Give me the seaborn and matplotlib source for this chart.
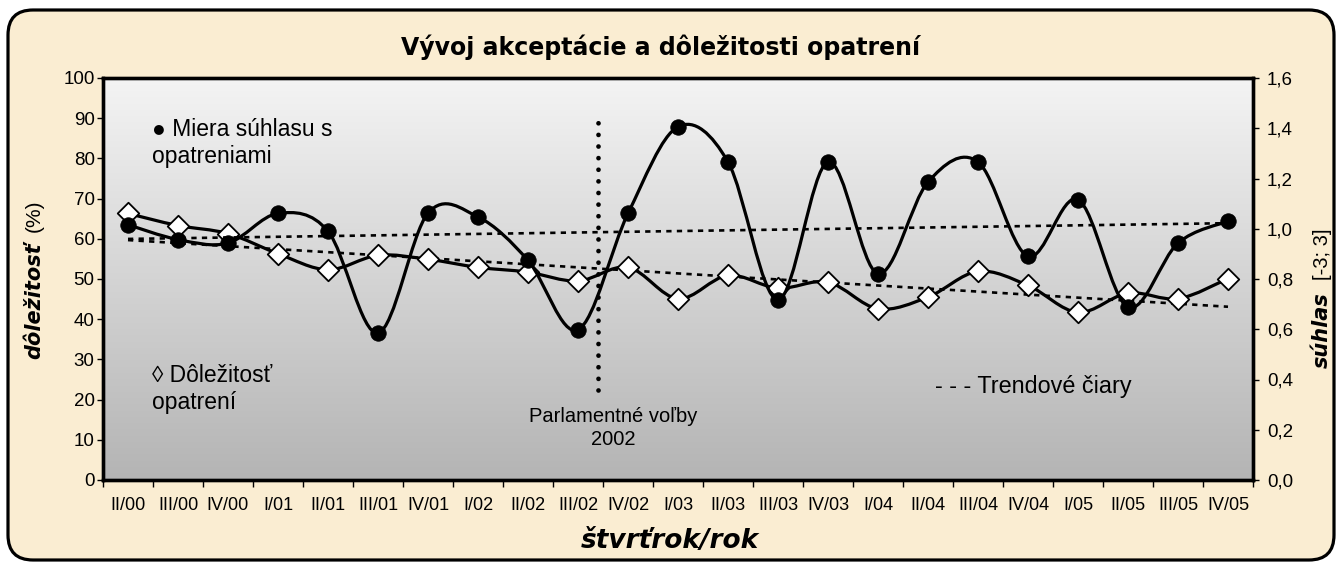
import numpy as np
import pandas as pd
import matplotlib
matplotlib.use("Agg")
import matplotlib.pyplot as plt
import seaborn as sns
from matplotlib.path import Path
from matplotlib.patches import PathPatch, FancyBboxPatch
from matplotlib.colors import LinearSegmentedColormap
from matplotlib.ticker import FixedLocator, FuncFormatter, NullFormatter

# ---------------- data ----------------
quarters = ["II/00", "III/00", "IV/00", "I/01", "II/01", "III/01", "IV/01", "I/02",
            "II/02", "III/02", "IV/02", "I/03", "II/03", "III/03", "IV/03", "I/04",
            "II/04", "III/04", "IV/04", "I/05", "II/05", "III/05", "IV/05"]
suhlas = [1.016, 0.957, 0.943, 1.061, 0.990, 0.585, 1.062, 1.047, 0.874, 0.598,
          1.061, 1.406, 1.266, 0.717, 1.266, 0.821, 1.186, 1.266, 0.890, 1.116,
          0.688, 0.943, 1.030]
dolezitost = [66.3, 63.3, 61.3, 56.3, 52.3, 55.9, 54.9, 52.9, 51.7, 49.5, 52.9,
              45.1, 50.9, 47.7, 49.2, 42.6, 45.5, 51.9, 48.4, 41.7, 46.5, 45.1, 50.1]
left_ticks = [0, 10, 20, 30, 40, 50, 60, 70, 80, 90, 100]
right_ticks = [0.0, 0.2, 0.4, 0.6, 0.8, 1.0, 1.2, 1.4, 1.6]
election_pos = 9.4          # between III/02 and IV/02
election_span = (22.4, 90)  # extent of the dotted marker on the % axis

df = pd.DataFrame({"q": quarters, "idx": np.arange(len(quarters)),
                   "suhlas": suhlas, "dolezitost": dolezitost})

# ---------------- style ----------------
sns.set_style("white")
plt.rcParams["font.family"] = ["Liberation Sans", "DejaVu Sans"]
for k in ("text.color", "axes.labelcolor", "xtick.color", "ytick.color"):
    plt.rcParams[k] = "black"

W, H = 1340, 563
fig = plt.figure(figsize=(W / 100, H / 100), dpi=100, facecolor="white")

# rounded parchment frame
frame = FancyBboxPatch((0.08, 0.03), 13.26, 5.5,
                       boxstyle="round,pad=0,rounding_size=0.25",
                       transform=fig.dpi_scale_trans, facecolor="#faedd2",
                       edgecolor="black", linewidth=2.3, zorder=-5)
fig.patches.append(frame)

L, R, T, B = 103, 1253, 78, 480
ax = fig.add_axes([L / W, 1 - B / H, (R - L) / W, (B - T) / H], zorder=1)
ax.set_xlim(-0.5, len(quarters) - 0.5)
ax.set_ylim(0, 100)

# gradient plot area
cmap = LinearSegmentedColormap.from_list("g", ["#b4b4b4", "#f4f4f4"])
grad = np.linspace(0, 1, 256).reshape(-1, 1)
ax.imshow(grad, extent=[-0.5, len(quarters) - 0.5, 0, 100], origin="lower",
          aspect="auto", cmap=cmap, zorder=0)

ax2 = ax.twinx()
ax2.set_zorder(2)
ax2.set_ylim(0, 1.6)
ax2.patch.set_visible(False)


def smooth_path(x, y):
    pts = np.column_stack([x, y]).astype(float)
    n = len(pts)
    verts = [pts[0]]
    codes = [Path.MOVETO]
    for i in range(n - 1):
        p0 = pts[i - 1] if i > 0 else pts[i]
        p1 = pts[i]
        p2 = pts[i + 1]
        p3 = pts[i + 2] if i + 2 < n else pts[i + 1]
        verts += [p1 + (p2 - p0) / 6, p2 - (p3 - p1) / 6, p2]
        codes += [Path.CURVE4] * 3
    return Path(verts, codes)


lw_main = 2.3
# importance series (left axis)
ax.add_patch(PathPatch(smooth_path(df["idx"], df["dolezitost"]), facecolor="none",
                       edgecolor="black", linewidth=lw_main, zorder=3,
                       capstyle="round", joinstyle="round"))
sns.scatterplot(data=df, x="idx", y="dolezitost", ax=ax, marker="D", s=120,
                color="white", edgecolor="black", linewidth=1.3, zorder=4,
                legend=False)
# trend for importance
c1 = np.polyfit(df["idx"], df["dolezitost"], 1)
ax.plot(df["idx"], np.polyval(c1, df["idx"]), color="black", lw=1.9,
        dashes=(2.0, 2.0), zorder=2)

# election marker
ax.plot([election_pos, election_pos], list(election_span), color="black",
        lw=3.4, dashes=(0.01, 2.45), dash_capstyle="round", zorder=2)

# agreement series (right axis)
ax2.add_patch(PathPatch(smooth_path(df["idx"], df["suhlas"]), facecolor="none",
                        edgecolor="black", linewidth=lw_main, zorder=3,
                        capstyle="round", joinstyle="round"))
sns.scatterplot(data=df, x="idx", y="suhlas", ax=ax2, marker="o", s=125,
                color="black", edgecolor="black", linewidth=0.5, zorder=4,
                legend=False)
c2 = np.polyfit(df["idx"], df["suhlas"], 1)
ax2.plot(df["idx"], np.polyval(c2, df["idx"]), color="black", lw=1.9,
         dashes=(2.0, 2.0), zorder=2)

# ---------------- axes formatting ----------------
for a in (ax, ax2):
    for s in a.spines.values():
        s.set_linewidth(2.4)
        s.set_color("black")
    a.set_xlabel("")
    a.set_ylabel("")

ax.xaxis.set_major_locator(FixedLocator(np.arange(-0.5, len(quarters), 1.0)))
ax.xaxis.set_major_formatter(NullFormatter())
ax.xaxis.set_minor_locator(FixedLocator(np.arange(len(quarters))))
ax.set_xticklabels(quarters, minor=True)
ax.tick_params(axis="x", which="major", direction="out", length=5, width=1,
               color="black", bottom=True)
ax.tick_params(axis="x", which="minor", length=0, pad=12, labelsize=13,
               bottom=True)

ax.set_yticks(left_ticks)
ax.set_yticklabels([str(v) for v in left_ticks])
ax.tick_params(axis="y", direction="out", length=4, width=1, left=True,
               labelsize=13.5, pad=2)

ax2.set_yticks(right_ticks)
ax2.yaxis.set_major_formatter(FuncFormatter(lambda v, p: f"{v:.1f}".replace(".", ",")))
ax2.tick_params(axis="y", direction="out", length=4, width=1, right=True,
                labelsize=13.5, pad=6)

# ---------------- texts ----------------
bold_font = ["DejaVu Sans"]
fig.text(661 / W, 1 - 47 / H, "Vývoj akceptácie a dôležitosti opatrení",
         ha="center", va="center", fontsize=17, fontweight="bold",
         family=bold_font)
fig.text(670 / W, 1 - 541 / H, "štvrťrok/rok", ha="center", va="center",
         fontsize=19, fontweight="bold", fontstyle="oblique", family=bold_font)

fig.text(34 / W, 1 - 301 / H, "dôležitosť", rotation=90, ha="center",
         va="center", fontsize=15, fontweight="bold", fontstyle="oblique",
         family=bold_font)
fig.text(34 / W, 1 - 216 / H, "(%)", rotation=90, ha="center", va="center",
         fontsize=15)
fig.text(1322 / W, 1 - 330 / H, "súhlas", rotation=90, ha="center",
         va="center", fontsize=15, fontweight="bold", fontstyle="oblique",
         family=bold_font)
fig.text(1322 / W, 1 - 254 / H, "[-3; 3]", rotation=90, ha="center",
         va="center", fontsize=14.5)

txt_family = ["Liberation Sans", "DejaVu Sans"]
fig.text(152 / W, 1 - 143 / H, "\u25cf Miera súhlasu s\nopatreniami", ha="left",
         va="center", fontsize=16.5, linespacing=1.25, family=txt_family)
fig.text(152 / W, 1 - 389 / H, "\u25ca Dôležitosť\nopatrení", ha="left",
         va="center", fontsize=16.5, linespacing=1.25, family=txt_family)
fig.text(935 / W, 1 - 386 / H, "- - - Trendové čiary", ha="left", va="center",
         fontsize=16.8, family=txt_family)
fig.text(613 / W, 1 - 428 / H, "Parlamentné voľby\n2002", ha="center",
         va="center", fontsize=14.5, linespacing=1.3, family=txt_family)

fig.savefig("out.png", dpi=100, facecolor="white")
